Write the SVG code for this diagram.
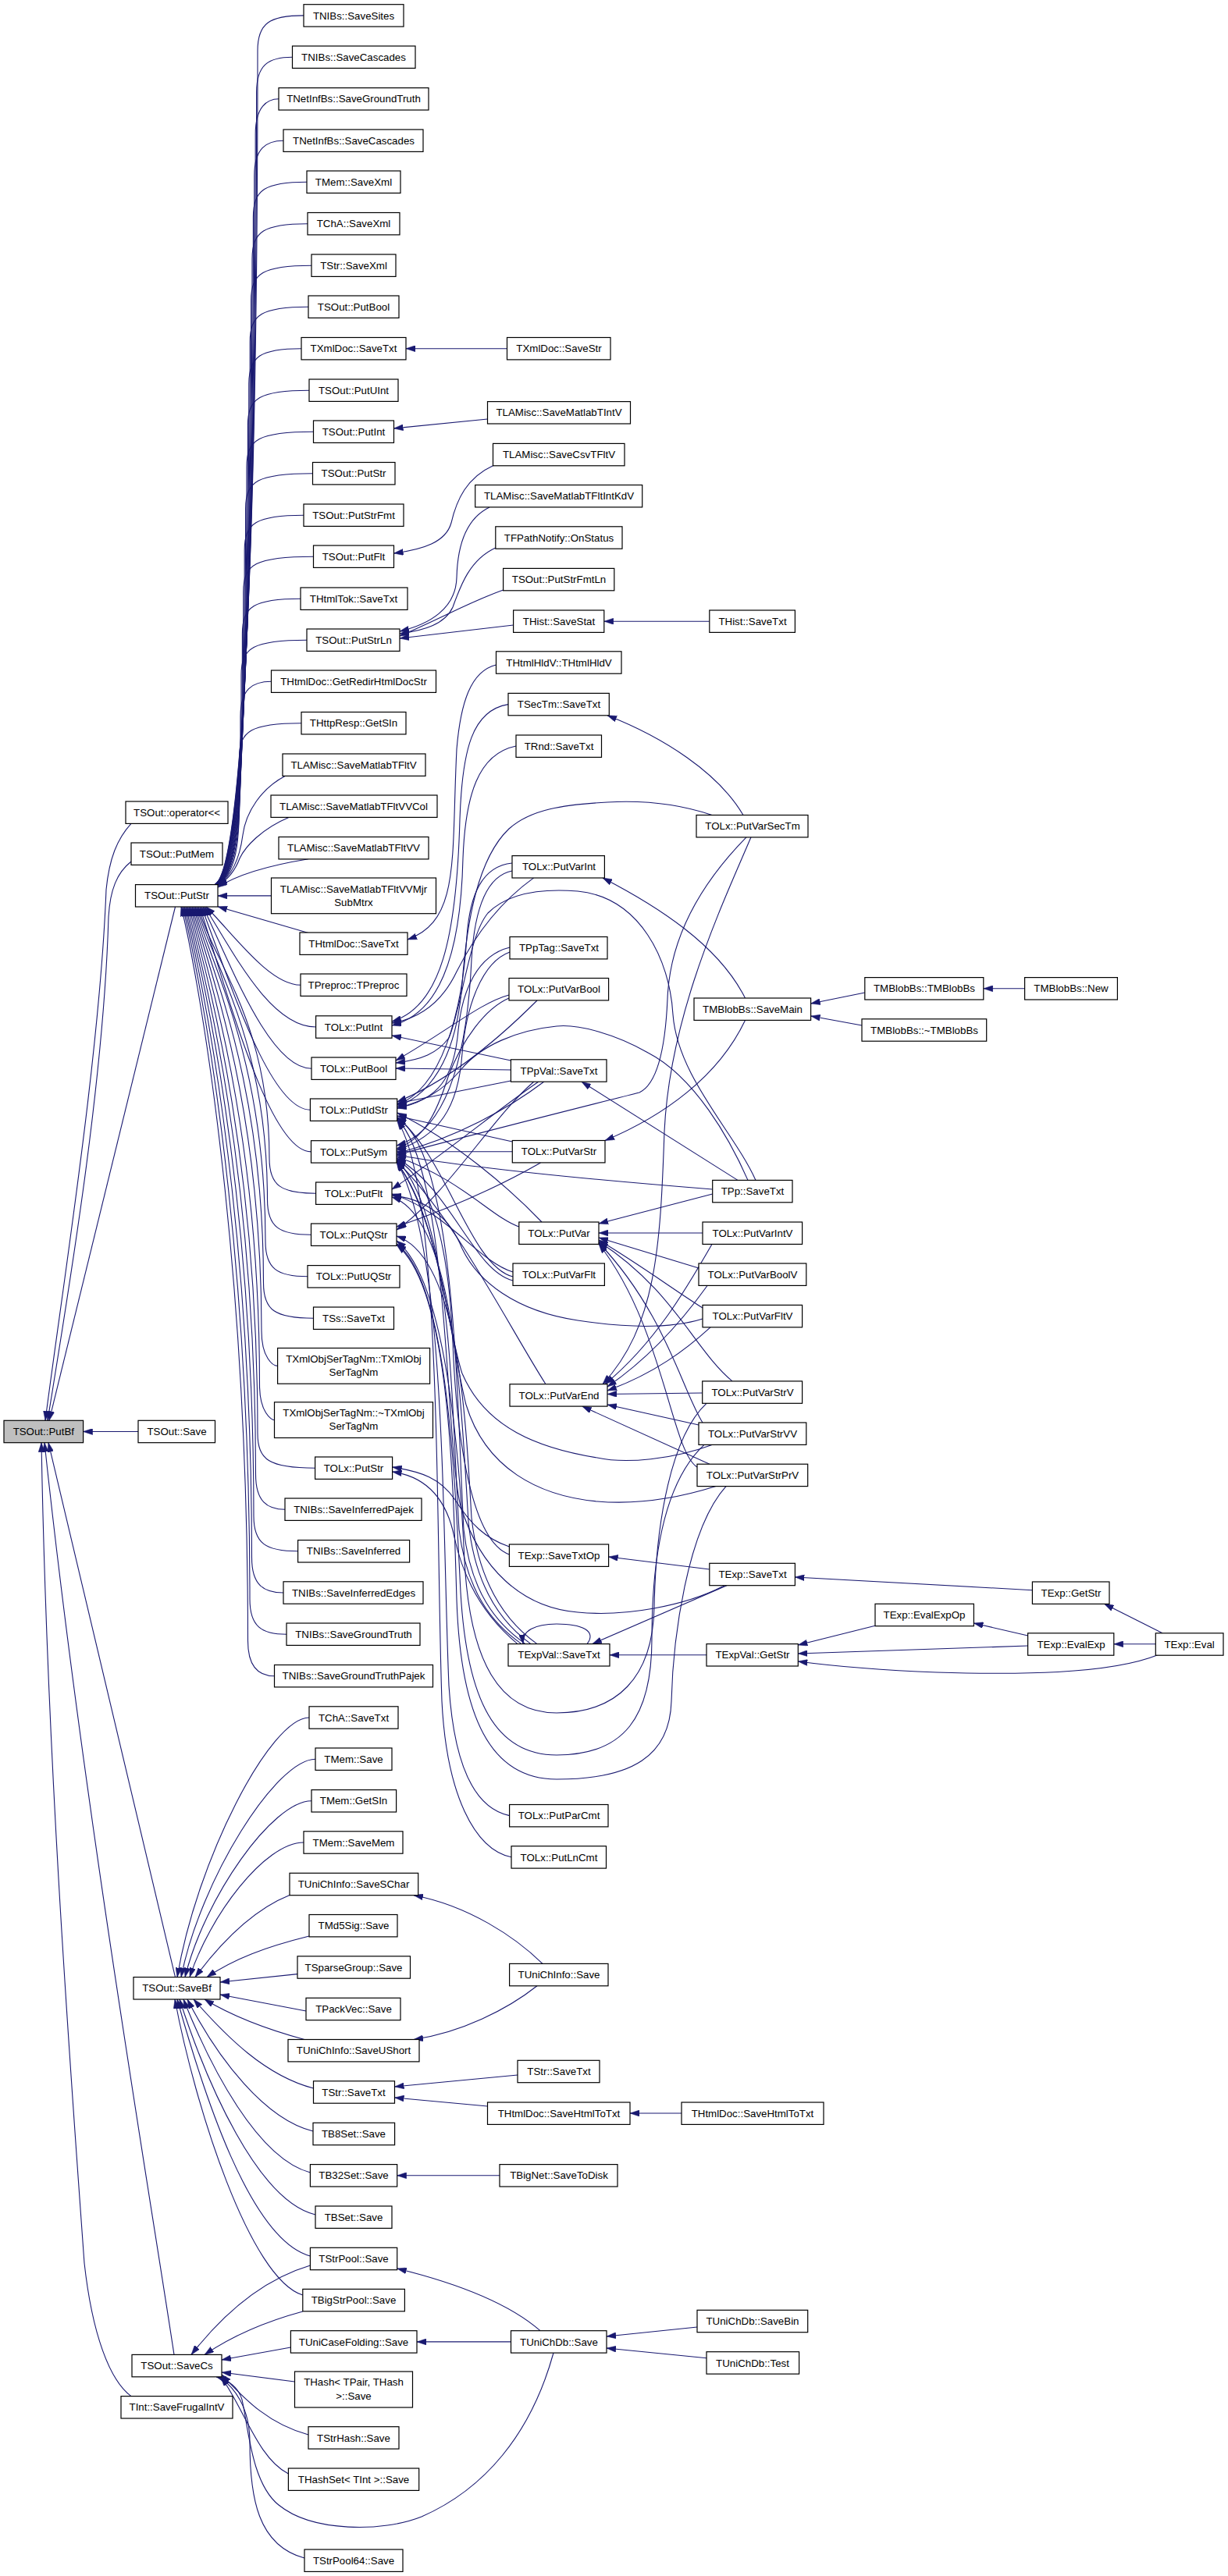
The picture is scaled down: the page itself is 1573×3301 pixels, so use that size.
<svg xmlns="http://www.w3.org/2000/svg" width="1573" height="3301" viewBox="0 0 1573 3301">
<defs>
<style>
.node rect{fill:#fff;stroke:#000;stroke-width:1.2}
.node text{font-family:'Liberation Sans',Arial,Helvetica,sans-serif;font-size:13.3px;text-anchor:middle;fill:#000}
#n_putbf rect{fill:#bfbfbf}
.edges path{fill:none;stroke:#191970;stroke-width:1.1;marker-end:url(#ah)}
</style>
<marker id="ah" markerUnits="userSpaceOnUse" markerWidth="12" markerHeight="8" refX="12" refY="4" orient="auto" viewBox="0 0 12 8"><path d="M0,0 L12,4 L0,8 z" fill="#191970" stroke="#191970" stroke-width="0.5"/></marker>
</defs>
<rect width="1573" height="3301" fill="#fff"/>
<g id="edges" class="edges">
<path d="M389,19.9 C345,19.9 330,29.9 330,64.9 C330,692 310,1115 275,1133.6"/>
<path d="M374.5,73.2 C343.6,73.2 328.6,83.2 328.6,118.2 C328.6,713.3 310,1115 275.2,1133.6"/>
<path d="M357,126.8 C342.2,126.8 327.2,136.8 327.2,171.8 C327.2,734.7 310,1115 275.5,1133.6"/>
<path d="M363,180.2 C340.8,180.2 325.8,190.2 325.8,225.2 C325.8,756.1 310,1115 275.7,1133.6"/>
<path d="M393,233.2 C339.4,233.2 324.4,243.2 324.4,278.2 C324.4,777.3 310,1115 275.9,1133.6"/>
<path d="M394,286.7 C338,286.7 323,296.7 323,331.7 C323,798.7 310,1115 276.2,1133.6"/>
<path d="M399,340.2 C336.6,340.2 321.6,350.2 321.6,385.2 C321.6,820.1 310,1115 276.4,1133.6"/>
<path d="M395,393.2 C335.2,393.2 320.2,403.2 320.2,438.2 C320.2,841.3 310,1115 276.6,1133.6"/>
<path d="M386,446.7 C333.8,446.7 318.8,456.7 318.8,491.7 C318.8,862.7 310,1115 276.8,1133.6"/>
<path d="M396,500.2 C332.4,500.2 317.4,510.2 317.4,545.2 C317.4,884.1 310,1115 277.1,1133.6"/>
<path d="M401.5,553.2 C331,553.2 316,563.2 316,598.2 C316,905.3 310,1115 277.3,1133.6"/>
<path d="M400.5,606.7 C329.6,606.7 314.6,616.7 314.6,651.7 C314.6,926.7 310,1115 277.5,1133.6"/>
<path d="M389,660.2 C328.2,660.2 313.2,670.2 313.2,705.2 C313.2,948.1 310,1115 277.8,1133.6"/>
<path d="M401.5,713.2 C326.8,713.2 311.8,723.2 311.8,758.2 C311.8,969.3 310,1115 278,1133.6"/>
<path d="M385,767.2 C325.4,767.2 310.4,777.2 310.4,812.2 C310.4,990.9 310,1115 278.2,1133.6"/>
<path d="M393,820.2 C324,820.2 309,830.2 309,865.2 C309,1012.1 310,1115 278.5,1133.6"/>
<path d="M347.5,873.2 C323,873.2 308,883.2 308,918.2 C308,1033.3 310,1115 278.7,1133.6"/>
<path d="M386,926.7 C321.5,926.7 306.5,936.7 306.5,971.7 C306.5,1054.7 310,1115 278.9,1133.6"/>
<path d="M366,994 C335,1010 315,1040 311,1070 C307,1100 298,1122 279,1134"/>
<path d="M371,1047 C335,1062 314,1085 307,1100 C301,1116 292,1127 279,1135"/>
<path d="M395,1100.7 C350,1108 305,1120 279,1137"/>
<path d="M347.5,1147.9 L279,1147.9"/>
<path d="M395,1195.5 L279,1161.8"/>
<path d="M385,1262.2 C345,1262.2 299,1197.1 264,1162"/>
<path d="M404.6,1316 C345,1316 297,1215.9 262,1162"/>
<path d="M399,1369.2 C345,1369.2 295,1234.5 260,1162"/>
<path d="M397.4,1422.2 C345,1422.2 293,1253.1 258,1162"/>
<path d="M398.5,1475.9 C345,1475.9 291,1271.9 256,1162"/>
<path d="M404.6,1529.2 C360,1529.2 345,1519.2 345,1484.2 C345,1307 272,1232 254,1162"/>
<path d="M398.5,1582.2 C357.5,1582.2 342.5,1572.2 342.5,1537.2 C342.5,1330.8 270,1232 252,1162"/>
<path d="M394,1635.8 C355,1635.8 340,1625.8 340,1590.8 C340,1355 268,1232 250,1162"/>
<path d="M401.5,1689.2 C352.5,1689.2 337.5,1679.2 337.5,1644.2 C337.5,1379 266,1232 248,1162"/>
<path d="M355.6,1750.4 C350,1750.4 335,1740.4 335,1705.4 C335,1406.5 264,1232 246,1162"/>
<path d="M351.5,1819.7 C347.5,1819.7 332.5,1809.7 332.5,1774.7 C332.5,1437.7 262,1232 244,1162"/>
<path d="M403.6,1881.2 C345,1881.2 330,1871.2 330,1836.2 C330,1465.4 260,1232 242,1162"/>
<path d="M365,1934.2 C342.5,1934.2 327.5,1924.2 327.5,1889.2 C327.5,1489.2 258,1232 240,1162"/>
<path d="M381.6,1987.8 C340,1987.8 325,1977.8 325,1942.8 C325,1513.4 256,1232 238,1162"/>
<path d="M363,2041 C337.5,2041 322.5,2031 322.5,1996 C322.5,1537.3 254,1232 236,1162"/>
<path d="M367,2094.2 C335,2094.2 320,2084.2 320,2049.2 C320,1561.2 252,1232 234,1162"/>
<path d="M351.5,2147.7 C332.5,2147.7 317.5,2137.7 317.5,2102.7 C317.5,1585.3 250,1232 232,1162"/>
<path d="M168,1055.3 C150,1075 140,1100 136,1140 C128,1350 80,1650 58,1820.3"/>
<path d="M168,1104 C150,1118 141,1140 139,1175 C133,1390 86,1665 61,1820.3"/>
<path d="M224.5,1162 L63,1820.3"/>
<path d="M177,1834.5 L106.6,1834.5"/>
<path d="M224.5,2533.6 L62,1848.7"/>
<path d="M223,3017.4 C190,2800 105,2300 57,1848.7"/>
<path d="M168,3070.6 C140,3050 118,2990 108,2900 C90,2650 60,2250 53,1848.7"/>
<path d="M396,2201 C346,2201 252,2383.9 227,2533.6"/>
<path d="M404,2254.2 C354,2254.2 257,2407.9 232,2533.6"/>
<path d="M399,2307.8 C349,2307.8 262,2432 237,2533.6"/>
<path d="M389,2361 C339,2361 268,2456 243,2533.6"/>
<path d="M371,2428.6 C330,2445 290,2480 250,2533.6"/>
<path d="M396,2481 C340,2495 300,2510 265,2533.6"/>
<path d="M381,2529.6 L282,2540"/>
<path d="M392,2577 L282,2556"/>
<path d="M390,2613.5 C340,2600 300,2585 262,2562"/>
<path d="M401.5,2676 C340,2660 290,2610 248,2562"/>
<path d="M401,2731 C340,2716 280,2640 240,2562"/>
<path d="M397.4,2784 C330,2766 270,2650 235,2562"/>
<path d="M404,2838 C330,2820 265,2670 230,2562"/>
<path d="M397.4,2891 C320,2870 260,2680 227,2562"/>
<path d="M387.8,2941 C320,2920 250,2700 224,2562"/>
<path d="M397.4,2903 C340,2920 290,2960 245,3017.4"/>
<path d="M387.8,2962 C340,2975 295,2995 262,3017.4"/>
<path d="M372.4,3008 L284,3024"/>
<path d="M377.5,3052 L284,3040"/>
<path d="M395,3120 C340,3105 310,3070 284,3043"/>
<path d="M369.4,3170 C330,3150 312,3085 283,3045.8"/>
<path d="M390,3278 C330,3262 320,3200 320,3130 C320,3085 300,3058 280,3045.8"/>
<path d="M709,3015 C680,3120 620,3190 540,3225 C490,3245 400,3245 357,3210 C322,3182 318,3110 310,3075 C305,3058 292,3050 277,3045.8"/>
<path d="M649.5,446.7 L520,446.7"/>
<path d="M624.5,537 L504.5,549"/>
<path d="M632,596.5 C598,612 585,640 578,670 C571,695 542,704 504.5,709"/>
<path d="M627,650 C596,665 586,700 585,740 C584,780 550,800 512,809"/>
<path d="M634.8,702 C602,717 590,750 580,778 C570,800 543,808 512,812"/>
<path d="M644.6,756 C600,772 570,790 512,815"/>
<path d="M657.6,801 L512,818"/>
<path d="M635.5,852 C603,860 590,900 585,960 C578,1100 590,1180 522,1204"/>
<path d="M651,902.6 C605,910 592,960 589,1050 C585,1200 565,1290 502,1309"/>
<path d="M661,956 C612,966 596,1020 593,1100 C590,1230 560,1300 502,1314"/>
<path d="M683.7,1124.9 C635,1160 605,1205 585,1245 C566,1285 538,1305 502,1311"/>
<path d="M656,1106 C618,1110 602,1145 598,1200 C592,1300 565,1395 508.7,1416"/>
<path d="M656,1116 C625,1122 608,1160 604,1230 C598,1360 570,1450 508,1468"/>
<path d="M652,1275 C615,1285 572,1322 507,1359"/>
<path d="M688,1282 C650,1320 582,1382 508.7,1412"/>
<path d="M652,1279 C622,1292 592,1332 574,1380 C558,1430 542,1460 508,1472"/>
<path d="M653,1214 C612,1224 592,1268 587,1320 C582,1380 562,1410 508.7,1420"/>
<path d="M653,1220 C617,1233 597,1290 592,1350 C587,1420 562,1456 508,1474"/>
<path d="M654.4,1359 L502,1327"/>
<path d="M654.4,1371 L507,1369"/>
<path d="M654.4,1385 L508.7,1414"/>
<path d="M690,1386 C640,1420 565,1482 502,1524"/>
<path d="M684,1386 C630,1432 572,1532 508,1576"/>
<path d="M697,1386 C652,1420 585,1458 508,1478"/>
<path d="M656.3,1475.8 L508,1475.8"/>
<path d="M656.3,1463 L508.7,1430"/>
<path d="M692.5,1490 C640,1520 572,1550 508,1572"/>
<path d="M694,1566 C652,1522 582,1462 508.7,1426"/>
<path d="M664.8,1572 C630,1560 592,1512 508,1482"/>
<path d="M657,1630 C612,1616 572,1552 502,1530"/>
<path d="M657,1636 C602,1622 572,1482 508.7,1432"/>
<path d="M657,1641 C606,1628 577,1522 508,1484"/>
<path d="M699,1773.7 C652,1700 582,1560 508,1488"/>
<path d="M652.4,1982 C622,1972 602,1952 583,1922 C564,1894 540,1886 502.6,1880"/>
<path d="M652.4,1992 C605,1975 585,1850 580,1720 C575,1600 555,1512 508,1486"/>
<path d="M663,2106.6 C625,2075 595,2030 582,1970 C572,1920 545,1892 502.6,1886"/>
<path d="M668,2106.6 C630,2080 598,2040 588,1960 C578,1800 580,1560 508,1486"/>
<path d="M673,2106.6 C635,2080 603,2040 594,1960 C585,1800 585,1480 508.7,1432"/>
<path d="M680,2106.6 C640,2078 608,2030 600,1950 C590,1780 580,1560 502,1534"/>
<path d="M688,2106.6 C645,2076 613,2025 604,1945 C596,1800 585,1610 508,1584"/>
<path d="M752,2106.6 C765,2090 745,2081 713,2081 C685,2081 668,2090 670,2106.6"/>
<path d="M652.6,2326.6 C612,2318 582,2270 575,2160 C566,1950 572,1600 508,1488"/>
<path d="M655,2379.8 C608,2370 572,2300 566,2180 C558,1950 566,1520 508.7,1436"/>
<path d="M908.8,796.2 L773.8,796.2"/>
<path d="M952,1044.5 C920,990 850,945 778,916.8"/>
<path d="M912,1044.5 C875,1032 830,1025 778,1028 C722,1031 680,1037 652,1062 C612,1100 598,1180 592,1260 C586,1340 560,1400 508.7,1418"/>
<path d="M956,1072.8 C900,1130 858,1200 855,1280 C852,1350 840,1390 819,1400 C740,1420 620,1450 508,1480"/>
<path d="M962,1072.8 C925,1160 858,1300 851,1450 C846,1600 840,1700 772,1773.7"/>
<path d="M954.5,1279 C920,1210 840,1160 772,1124.9"/>
<path d="M954.5,1307.4 C920,1380 850,1430 775,1461.5"/>
<path d="M1107.8,1272 L1038.6,1286"/>
<path d="M1104,1314 L1038.6,1302"/>
<path d="M1312.6,1266.8 L1259.8,1266.8"/>
<path d="M945,1512.4 L745,1386.2"/>
<path d="M912.7,1530 L767,1568"/>
<path d="M912.7,1524 C800,1515 620,1500 508,1480"/>
<path d="M958,1512.4 C935,1460 890,1380 830,1349 C790,1326 742,1312 713,1315 C662,1320 616,1340 591,1370 C566,1400 540,1412 508.7,1420"/>
<path d="M968,1512.4 C940,1450 868,1380 862,1300 C858,1230 820,1150 740,1142 C690,1138 650,1145 625,1170 C600,1200 592,1290 575,1330 C560,1350 540,1358 507,1362"/>
<path d="M900,1580 L767,1580"/>
<path d="M912,1594.4 C880,1650 840,1720 775,1773.7"/>
<path d="M895,1625 L767,1586"/>
<path d="M906,1647.5 C872,1695 832,1740 778,1777"/>
<path d="M900,1676 C862,1652 822,1622 767,1589"/>
<path d="M900,1690 C852,1705 792,1700 740,1692 C660,1680 612,1642 592,1600 C577,1562 547,1536 502,1532"/>
<path d="M910,1700.8 C878,1730 838,1760 778,1782"/>
<path d="M938,1769.9 C890,1730 862,1652 767,1591"/>
<path d="M899.7,1785 L778,1786.5"/>
<path d="M905,1798.3 C860,1840 840,1950 838,2060 C836,2150 790,2195 713,2195 C640,2195 602,2130 595,2000 C588,1850 570,1640 508,1590"/>
<path d="M900,1823 C874,1782 852,1682 767,1592.5"/>
<path d="M895,1826 L778,1800"/>
<path d="M912,1851.4 C862,1870 802,1876 765,1868 C690,1856 622,1830 592,1760 C572,1700 562,1560 508,1489"/>
<path d="M902,1851.4 C850,1900 835,2000 835,2100 C835,2200 800,2249 713,2249 C635,2249 598,2180 590,2040 C582,1880 572,1640 508,1594"/>
<path d="M893,1880 C860,1860 850,1700 767,1594"/>
<path d="M909,1876.2 L745.7,1802.1"/>
<path d="M917,1904.6 C862,1922 812,1928 765,1924 C690,1917 622,1882 597,1800 C577,1722 566,1570 508,1489"/>
<path d="M930,1904.6 C880,1960 862,2100 860,2180 C858,2250 810,2280 713,2280 C628,2280 590,2200 585,2050 C580,1880 575,1650 508,1595"/>
<path d="M908.8,2011 L779.6,1995"/>
<path d="M931,2031.7 L758.8,2106.6"/>
<path d="M928,2031.7 C878,2058 800,2072 740,2066 C668,2060 615,2010 590,1930 C570,1850 576,1500 508.7,1434"/>
<path d="M1322.4,2037.7 L1018.4,2021"/>
<path d="M1489,2092.8 L1414.5,2055.3"/>
<path d="M1480.3,2106.8 L1426.8,2106.8"/>
<path d="M1483,2120.8 C1420,2146 1300,2146 1200,2143 C1120,2140 1060,2134 1022.3,2129"/>
<path d="M1316.6,2096 L1247.4,2080"/>
<path d="M1316.6,2109 L1022.3,2119"/>
<path d="M1121,2083.3 L1022.3,2108"/>
<path d="M905,2120.8 L781,2120.8"/>
<path d="M695,2516.4 C660,2482 600,2442 530,2428.7"/>
<path d="M688,2544.8 C650,2575 590,2605 530,2613.5"/>
<path d="M663,2659 L505.5,2674"/>
<path d="M624.5,2699 L505.5,2688"/>
<path d="M873,2708 L807,2708"/>
<path d="M640,2787.8 L508.7,2787.8"/>
<path d="M692,2986.7 C650,2950 582,2925 508.7,2907"/>
<path d="M654.5,3000.9 L534,3000.9"/>
<path d="M893,2982 L777,2994"/>
<path d="M905,3021.7 L777,3009"/>
</g>
<g id="n_putbf" class="node"><rect x="5" y="1820.3" width="101.6" height="28.4"/><text x="55.8" y="1839.1">TSOut::PutBf</text></g>
<g id="n_oplsh" class="node"><rect x="161" y="1027" width="131" height="28.4"/><text x="226.5" y="1045.8">TSOut::operator&lt;&lt;</text></g>
<g id="n_putmem" class="node"><rect x="168" y="1080" width="117" height="28.4"/><text x="226.5" y="1098.8">TSOut::PutMem</text></g>
<g id="n_putstr" class="node"><rect x="173.5" y="1133.6" width="105.5" height="28.4"/><text x="226.5" y="1152.4">TSOut::PutStr</text></g>
<g id="n_save" class="node"><rect x="177" y="1820.3" width="98.5" height="28.4"/><text x="226.5" y="1839.1">TSOut::Save</text></g>
<g id="n_savebf" class="node"><rect x="171" y="2533.6" width="111" height="28.4"/><text x="226.5" y="2552.4">TSOut::SaveBf</text></g>
<g id="n_savecs" class="node"><rect x="169" y="3017.4" width="115" height="28.4"/><text x="226.5" y="3036.2">TSOut::SaveCs</text></g>
<g id="n_frugal" class="node"><rect x="155" y="3070.6" width="143" height="28.4"/><text x="226.5" y="3089.4">TInt::SaveFrugalIntV</text></g>
<g id="n2_0" class="node"><rect x="389" y="5.7" width="128" height="28.4"/><text x="453" y="24.5">TNIBs::SaveSites</text></g>
<g id="n2_1" class="node"><rect x="374.5" y="59" width="157.5" height="28.4"/><text x="453" y="77.8">TNIBs::SaveCascades</text></g>
<g id="n2_2" class="node"><rect x="357" y="112.6" width="192" height="28.4"/><text x="453" y="131.4">TNetInfBs::SaveGroundTruth</text></g>
<g id="n2_3" class="node"><rect x="363" y="166" width="179" height="28.4"/><text x="453" y="184.8">TNetInfBs::SaveCascades</text></g>
<g id="n2_4" class="node"><rect x="393" y="219" width="120" height="28.4"/><text x="453" y="237.8">TMem::SaveXml</text></g>
<g id="n2_5" class="node"><rect x="394" y="272.5" width="118" height="28.4"/><text x="453" y="291.3">TChA::SaveXml</text></g>
<g id="n2_6" class="node"><rect x="399" y="326" width="108" height="28.4"/><text x="453" y="344.8">TStr::SaveXml</text></g>
<g id="n2_7" class="node"><rect x="395" y="379" width="116" height="28.4"/><text x="453" y="397.8">TSOut::PutBool</text></g>
<g id="n2_8" class="node"><rect x="386" y="432.5" width="134" height="28.4"/><text x="453" y="451.3">TXmlDoc::SaveTxt</text></g>
<g id="n2_9" class="node"><rect x="396" y="486" width="114" height="28.4"/><text x="453" y="504.8">TSOut::PutUInt</text></g>
<g id="n2_10" class="node"><rect x="401.5" y="539" width="103" height="28.4"/><text x="453" y="557.8">TSOut::PutInt</text></g>
<g id="n2_11" class="node"><rect x="400.5" y="592.5" width="105.5" height="28.4"/><text x="453" y="611.3">TSOut::PutStr</text></g>
<g id="n2_12" class="node"><rect x="389" y="646" width="128" height="28.4"/><text x="453" y="664.8">TSOut::PutStrFmt</text></g>
<g id="n2_13" class="node"><rect x="401.5" y="699" width="103" height="28.4"/><text x="453" y="717.8">TSOut::PutFlt</text></g>
<g id="n2_14" class="node"><rect x="385" y="753" width="137" height="28.4"/><text x="453" y="771.8">THtmlTok::SaveTxt</text></g>
<g id="n2_15" class="node"><rect x="393" y="806" width="119" height="28.4"/><text x="453" y="824.8">TSOut::PutStrLn</text></g>
<g id="n2_16" class="node"><rect x="347.5" y="859" width="211" height="28.4"/><text x="453" y="877.8">THtmlDoc::GetRedirHtmlDocStr</text></g>
<g id="n2_17" class="node"><rect x="386" y="912.5" width="134" height="28.4"/><text x="453" y="931.3">THttpResp::GetSIn</text></g>
<g id="n2_18" class="node"><rect x="362" y="966" width="183" height="28.4"/><text x="453" y="984.8">TLAMisc::SaveMatlabTFltV</text></g>
<g id="n2_19" class="node"><rect x="347" y="1019" width="213" height="28.4"/><text x="453" y="1037.8">TLAMisc::SaveMatlabTFltVVCol</text></g>
<g id="n2_20" class="node"><rect x="357" y="1072.5" width="192" height="28.4"/><text x="453" y="1091.3">TLAMisc::SaveMatlabTFltVV</text></g>
<g id="n2_21" class="node"><rect x="347.5" y="1125" width="211" height="45.7"/><text x="453" y="1143.6">TLAMisc::SaveMatlabTFltVVMjr</text><text x="453" y="1160.5">SubMtrx</text></g>
<g id="n2_22" class="node"><rect x="384" y="1195" width="138" height="28.4"/><text x="453" y="1213.8">THtmlDoc::SaveTxt</text></g>
<g id="n2_23" class="node"><rect x="385" y="1248" width="136" height="28.4"/><text x="453" y="1266.8">TPreproc::TPreproc</text></g>
<g id="n2_24" class="node"><rect x="404.6" y="1301.8" width="97.4" height="28.4"/><text x="453" y="1320.6">TOLx::PutInt</text></g>
<g id="n2_25" class="node"><rect x="399" y="1355" width="108" height="28.4"/><text x="453" y="1373.8">TOLx::PutBool</text></g>
<g id="n2_26" class="node"><rect x="397.4" y="1408" width="111.3" height="28.4"/><text x="453" y="1426.8">TOLx::PutIdStr</text></g>
<g id="n2_27" class="node"><rect x="398.5" y="1461.7" width="109.5" height="28.4"/><text x="453" y="1480.5">TOLx::PutSym</text></g>
<g id="n2_28" class="node"><rect x="404.6" y="1515" width="97.4" height="28.4"/><text x="453" y="1533.8">TOLx::PutFlt</text></g>
<g id="n2_29" class="node"><rect x="398.5" y="1568" width="109.5" height="28.4"/><text x="453" y="1586.8">TOLx::PutQStr</text></g>
<g id="n2_30" class="node"><rect x="394" y="1621.6" width="118" height="28.4"/><text x="453" y="1640.4">TOLx::PutUQStr</text></g>
<g id="n2_31" class="node"><rect x="401.5" y="1675" width="103" height="28.4"/><text x="453" y="1693.8">TSs::SaveTxt</text></g>
<g id="n2_32" class="node"><rect x="355.6" y="1727.5" width="195" height="45.7"/><text x="453" y="1745.7">TXmlObjSerTagNm::TXmlObj</text><text x="453" y="1762.8">SerTagNm</text></g>
<g id="n2_33" class="node"><rect x="351.5" y="1796.8" width="203" height="45.7"/><text x="453" y="1815">TXmlObjSerTagNm::~TXmlObj</text><text x="453" y="1832.1">SerTagNm</text></g>
<g id="n2_34" class="node"><rect x="403.6" y="1867" width="99" height="28.4"/><text x="453" y="1885.8">TOLx::PutStr</text></g>
<g id="n2_35" class="node"><rect x="365" y="1920" width="175" height="28.4"/><text x="453" y="1938.8">TNIBs::SaveInferredPajek</text></g>
<g id="n2_36" class="node"><rect x="381.6" y="1973.6" width="143" height="28.4"/><text x="453" y="1992.4">TNIBs::SaveInferred</text></g>
<g id="n2_37" class="node"><rect x="363" y="2026.8" width="179" height="28.4"/><text x="453" y="2045.6">TNIBs::SaveInferredEdges</text></g>
<g id="n2_38" class="node"><rect x="367" y="2080" width="171" height="28.4"/><text x="453" y="2098.8">TNIBs::SaveGroundTruth</text></g>
<g id="n2_39" class="node"><rect x="351.5" y="2133.5" width="203" height="28.4"/><text x="453" y="2152.3">TNIBs::SaveGroundTruthPajek</text></g>
<g id="n2_40" class="node"><rect x="396" y="2186.8" width="114" height="28.4"/><text x="453" y="2205.6">TChA::SaveTxt</text></g>
<g id="n2_41" class="node"><rect x="404" y="2240" width="98" height="28.4"/><text x="453" y="2258.8">TMem::Save</text></g>
<g id="n2_42" class="node"><rect x="399" y="2293.6" width="108.6" height="28.4"/><text x="453" y="2312.4">TMem::GetSIn</text></g>
<g id="n2_43" class="node"><rect x="389" y="2346.8" width="127" height="28.4"/><text x="453" y="2365.6">TMem::SaveMem</text></g>
<g id="n2_44" class="node"><rect x="371" y="2400.3" width="164.7" height="28.4"/><text x="453" y="2419.1">TUniChInfo::SaveSChar</text></g>
<g id="n2_45" class="node"><rect x="396" y="2453.5" width="113" height="28.4"/><text x="453" y="2472.3">TMd5Sig::Save</text></g>
<g id="n2_46" class="node"><rect x="381" y="2506.8" width="144.5" height="28.4"/><text x="453" y="2525.6">TSparseGroup::Save</text></g>
<g id="n2_47" class="node"><rect x="392" y="2560.3" width="121" height="28.4"/><text x="453" y="2579.1">TPackVec::Save</text></g>
<g id="n2_48" class="node"><rect x="369" y="2613.5" width="168" height="28.4"/><text x="453" y="2632.3">TUniChInfo::SaveUShort</text></g>
<g id="n2_49" class="node"><rect x="401.5" y="2666.8" width="104" height="28.4"/><text x="453" y="2685.6">TStr::SaveTxt</text></g>
<g id="n2_50" class="node"><rect x="401" y="2720.3" width="104.6" height="28.4"/><text x="453" y="2739.1">TB8Set::Save</text></g>
<g id="n2_51" class="node"><rect x="397.4" y="2773.6" width="111.3" height="28.4"/><text x="453" y="2792.4">TB32Set::Save</text></g>
<g id="n2_52" class="node"><rect x="404" y="2827" width="98" height="28.4"/><text x="453" y="2845.8">TBSet::Save</text></g>
<g id="n2_53" class="node"><rect x="397.4" y="2880.3" width="111.3" height="28.4"/><text x="453" y="2899.1">TStrPool::Save</text></g>
<g id="n2_54" class="node"><rect x="387.8" y="2933.4" width="130.6" height="28.4"/><text x="453" y="2952.2">TBigStrPool::Save</text></g>
<g id="n2_55" class="node"><rect x="372.4" y="2986.7" width="161.6" height="28.4"/><text x="453" y="3005.5">TUniCaseFolding::Save</text></g>
<g id="n2_56" class="node"><rect x="377.5" y="3039" width="151" height="46"/><text x="453" y="3057.3">THash&lt; TPair, THash</text><text x="453" y="3074.6">&gt;::Save</text></g>
<g id="n2_57" class="node"><rect x="395" y="3109.7" width="116" height="28.4"/><text x="453" y="3128.5">TStrHash::Save</text></g>
<g id="n2_58" class="node"><rect x="369.4" y="3163" width="167.3" height="28.4"/><text x="453" y="3181.8">THashSet&lt; TInt &gt;::Save</text></g>
<g id="n2_59" class="node"><rect x="390" y="3267" width="126" height="28.4"/><text x="453" y="3285.8">TStrPool64::Save</text></g>
<g id="n3_0" class="node"><rect x="649.5" y="432.5" width="132.5" height="28.4"/><text x="716" y="451.3">TXmlDoc::SaveStr</text></g>
<g id="n3_1" class="node"><rect x="624.5" y="514.6" width="183" height="28.4"/><text x="716" y="533.4">TLAMisc::SaveMatlabTIntV</text></g>
<g id="n3_2" class="node"><rect x="631.5" y="568.4" width="168.5" height="28.4"/><text x="716" y="587.2">TLAMisc::SaveCsvTFltV</text></g>
<g id="n3_3" class="node"><rect x="608.7" y="621.5" width="214" height="28.4"/><text x="716" y="640.3">TLAMisc::SaveMatlabTFltIntKdV</text></g>
<g id="n3_4" class="node"><rect x="634.8" y="674.8" width="162.2" height="28.4"/><text x="716" y="693.6">TFPathNotify::OnStatus</text></g>
<g id="n3_5" class="node"><rect x="644.6" y="728.4" width="142.2" height="28.4"/><text x="716" y="747.2">TSOut::PutStrFmtLn</text></g>
<g id="n3_6" class="node"><rect x="657.6" y="782" width="116.2" height="28.4"/><text x="716" y="800.8">THist::SaveStat</text></g>
<g id="n3_7" class="node"><rect x="635.5" y="834.8" width="160.5" height="28.4"/><text x="716" y="853.6">THtmlHldV::THtmlHldV</text></g>
<g id="n3_8" class="node"><rect x="651" y="888.4" width="129.3" height="28.4"/><text x="716" y="907.2">TSecTm::SaveTxt</text></g>
<g id="n3_9" class="node"><rect x="661" y="942" width="109.5" height="28.4"/><text x="716" y="960.8">TRnd::SaveTxt</text></g>
<g id="n3_10" class="node"><rect x="656" y="1096.6" width="118.4" height="28.4"/><text x="716" y="1115.4">TOLx::PutVarInt</text></g>
<g id="n3_11" class="node"><rect x="653" y="1200.5" width="125" height="28.4"/><text x="716" y="1219.3">TPpTag::SaveTxt</text></g>
<g id="n3_12" class="node"><rect x="652" y="1253.5" width="127.6" height="28.4"/><text x="716" y="1272.3">TOLx::PutVarBool</text></g>
<g id="n3_13" class="node"><rect x="654.4" y="1357.8" width="122.6" height="28.4"/><text x="716" y="1376.6">TPpVal::SaveTxt</text></g>
<g id="n3_14" class="node"><rect x="656.3" y="1461.5" width="118.7" height="28.4"/><text x="716" y="1480.3">TOLx::PutVarStr</text></g>
<g id="n3_15" class="node"><rect x="664.8" y="1566" width="102.2" height="28.4"/><text x="716" y="1584.8">TOLx::PutVar</text></g>
<g id="n3_16" class="node"><rect x="657" y="1619" width="117.4" height="28.4"/><text x="716" y="1637.8">TOLx::PutVarFlt</text></g>
<g id="n3_17" class="node"><rect x="653" y="1773.7" width="125" height="28.4"/><text x="716" y="1792.5">TOLx::PutVarEnd</text></g>
<g id="n3_18" class="node"><rect x="652.4" y="1979" width="127.2" height="28.4"/><text x="716" y="1997.8">TExp::SaveTxtOp</text></g>
<g id="n3_19" class="node"><rect x="651" y="2106.6" width="130" height="28.4"/><text x="716" y="2125.4">TExpVal::SaveTxt</text></g>
<g id="n3_20" class="node"><rect x="652.6" y="2312.5" width="126.4" height="28.4"/><text x="716" y="2331.3">TOLx::PutParCmt</text></g>
<g id="n3_21" class="node"><rect x="655" y="2365.7" width="121.5" height="28.4"/><text x="716" y="2384.5">TOLx::PutLnCmt</text></g>
<g id="n3_22" class="node"><rect x="652.6" y="2516.4" width="126.4" height="28.4"/><text x="716" y="2535.2">TUniChInfo::Save</text></g>
<g id="n3_23" class="node"><rect x="663" y="2640.3" width="105" height="28.4"/><text x="716" y="2659.1">TStr::SaveTxt</text></g>
<g id="n3_24" class="node"><rect x="624.5" y="2694" width="182.5" height="28.4"/><text x="716" y="2712.8">THtmlDoc::SaveHtmlToTxt</text></g>
<g id="n3_25" class="node"><rect x="640" y="2773.6" width="151" height="28.4"/><text x="716" y="2792.4">TBigNet::SaveToDisk</text></g>
<g id="n3_26" class="node"><rect x="654.5" y="2986.7" width="122.5" height="28.4"/><text x="716" y="3005.5">TUniChDb::Save</text></g>
<g id="n4_0" class="node"><rect x="908.8" y="782" width="109.6" height="28.4"/><text x="964" y="800.8">THist::SaveTxt</text></g>
<g id="n4_1" class="node"><rect x="892" y="1044.5" width="143" height="28.4"/><text x="964" y="1063.3">TOLx::PutVarSecTm</text></g>
<g id="n4_2" class="node"><rect x="889" y="1279" width="149.6" height="28.4"/><text x="964" y="1297.8">TMBlobBs::SaveMain</text></g>
<g id="n4_3" class="node"><rect x="912.7" y="1512.4" width="102.3" height="28.4"/><text x="964" y="1531.2">TPp::SaveTxt</text></g>
<g id="n4_4" class="node"><rect x="900" y="1566" width="127.6" height="28.4"/><text x="964" y="1584.8">TOLx::PutVarIntV</text></g>
<g id="n4_5" class="node"><rect x="895" y="1619" width="137.8" height="28.4"/><text x="964" y="1637.8">TOLx::PutVarBoolV</text></g>
<g id="n4_6" class="node"><rect x="900" y="1672.4" width="127.6" height="28.4"/><text x="964" y="1691.2">TOLx::PutVarFltV</text></g>
<g id="n4_7" class="node"><rect x="899.7" y="1769.9" width="127.9" height="28.4"/><text x="964" y="1788.7">TOLx::PutVarStrV</text></g>
<g id="n4_8" class="node"><rect x="895" y="1823" width="137.8" height="28.4"/><text x="964" y="1841.8">TOLx::PutVarStrVV</text></g>
<g id="n4_9" class="node"><rect x="893" y="1876.2" width="141.7" height="28.4"/><text x="964" y="1895">TOLx::PutVarStrPrV</text></g>
<g id="n4_10" class="node"><rect x="908.8" y="2003.3" width="109.6" height="28.4"/><text x="964" y="2022.1">TExp::SaveTxt</text></g>
<g id="n4_11" class="node"><rect x="905" y="2106.6" width="117.3" height="28.4"/><text x="964" y="2125.4">TExpVal::GetStr</text></g>
<g id="n4_12" class="node"><rect x="873" y="2694" width="182" height="28.4"/><text x="964" y="2712.8">THtmlDoc::SaveHtmlToTxt</text></g>
<g id="n4_13" class="node"><rect x="893" y="2960.3" width="141.7" height="28.4"/><text x="964" y="2979.1">TUniChDb::SaveBin</text></g>
<g id="n4_14" class="node"><rect x="905" y="3013.7" width="118.6" height="28.4"/><text x="964" y="3032.5">TUniChDb::Test</text></g>
<g id="n5_0" class="node"><rect x="1107.8" y="1252.6" width="152" height="28.4"/><text x="1184" y="1271.4">TMBlobBs::TMBlobBs</text></g>
<g id="n5_1" class="node"><rect x="1104" y="1305.8" width="159.7" height="28.4"/><text x="1184" y="1324.6">TMBlobBs::~TMBlobBs</text></g>
<g id="n5_2" class="node"><rect x="1121" y="2055.3" width="126.4" height="28.4"/><text x="1184" y="2074.1">TExp::EvalExpOp</text></g>
<g id="n6_0" class="node"><rect x="1312.6" y="1252.6" width="118.8" height="28.4"/><text x="1372" y="1271.4">TMBlobBs::New</text></g>
<g id="n6_1" class="node"><rect x="1322.4" y="2027" width="98.6" height="28.4"/><text x="1372" y="2045.8">TExp::GetStr</text></g>
<g id="n6_2" class="node"><rect x="1316.6" y="2092.8" width="110.2" height="28.4"/><text x="1372" y="2111.6">TExp::EvalExp</text></g>
<g id="n7_0" class="node"><rect x="1480.3" y="2092.8" width="86.7" height="28.4"/><text x="1523.6" y="2111.6">TExp::Eval</text></g>
</svg>
